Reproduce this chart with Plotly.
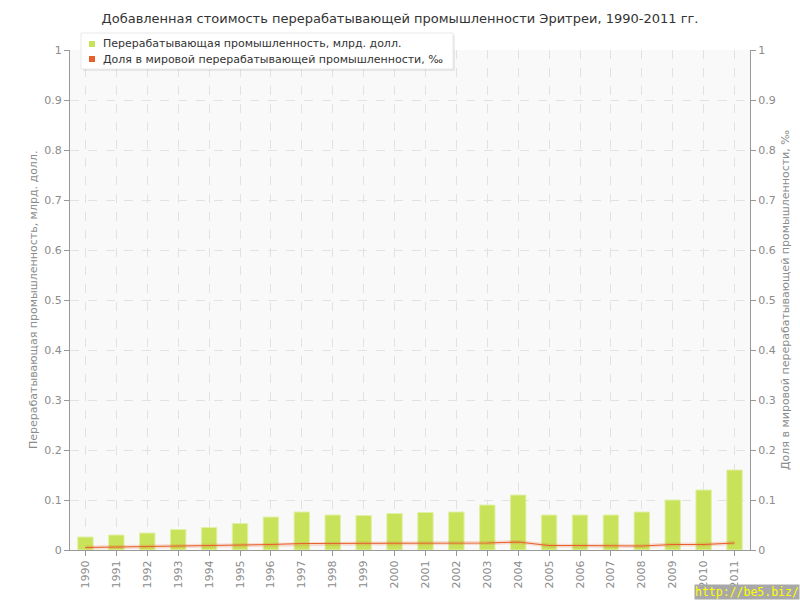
import plotly.graph_objects as go

years = [str(y) for y in range(1990, 2012)]
value_bn = [0.026, 0.030, 0.034, 0.041, 0.045, 0.053, 0.066, 0.076, 0.070, 0.069, 0.073,
            0.075, 0.076, 0.090, 0.110, 0.070, 0.070, 0.070, 0.076, 0.100, 0.120, 0.160]
share_permille = [0.005, 0.006, 0.007, 0.008, 0.008, 0.009, 0.011, 0.013, 0.013, 0.013, 0.013,
                  0.014, 0.014, 0.014, 0.016, 0.009, 0.009, 0.008, 0.008, 0.011, 0.011, 0.014]
y_ticks = [0, 0.1, 0.2, 0.3, 0.4, 0.5, 0.6, 0.7, 0.8, 0.9, 1]
y_tick_text = ["0", "0.1", "0.2", "0.3", "0.4", "0.5", "0.6", "0.7", "0.8", "0.9", "1"]

title = "Добавленная стоимость перерабатывающей промышленности Эритреи, 1990-2011 гг."
name_bar = "Перерабатывающая промышленность, млрд. долл."
name_line = "Доля в мировой перерабатывающей промышленности, ‰"

FONT = "DejaVu Sans"
GRAY = "#8c8c8c"
BAR_COLOR = "#c8e35a"
LINE_COLOR = "#e8602c"

fig = go.Figure()
fig.add_trace(go.Bar(
    x=years, y=value_bn, name=name_bar, showlegend=False,
    marker=dict(color=BAR_COLOR, line=dict(color="#e2f0a8", width=1)),
    width=0.5, yaxis="y",
))
# soft halo under the share line
fig.add_trace(go.Scatter(
    x=years, y=share_permille, mode="lines", showlegend=False, hoverinfo="skip",
    line=dict(color="rgba(232,96,44,0.2)", width=4), yaxis="y2",
))
fig.add_trace(go.Scatter(
    x=years, y=share_permille, name=name_line, mode="lines", showlegend=False,
    line=dict(color=LINE_COLOR, width=1.2), yaxis="y2",
))

axis_common = dict(
    range=[0, 1], tickvals=y_ticks, ticktext=y_tick_text,
    ticks="outside", ticklen=5, tickcolor="#999999",
    tickfont=dict(family=FONT, size=11, color=GRAY),
    showline=True, linecolor="#999999", linewidth=1,
    zeroline=False, automargin=False,
)

fig.update_layout(
    width=800, height=600,
    paper_bgcolor="white", plot_bgcolor="#f9f9f9",
    margin=dict(l=70, r=50, t=50, b=50),
    title=dict(text=title, x=0.5, xanchor="center", y=0.97, yanchor="middle",
               font=dict(family=FONT, size=13, color="#333333")),
    font=dict(family=FONT, size=11, color=GRAY),
    showlegend=False,
    xaxis=dict(
        type="category", tickangle=-90,
        tickfont=dict(family=FONT, size=11, color=GRAY),
        showgrid=True, gridcolor="#e2e2e2", griddash="dash", gridwidth=1,
        showline=True, linecolor="#999999", linewidth=1,
        ticks="outside", ticklen=5, tickcolor="#999999",
        range=[-0.5, 21.5], automargin=False, layer="above traces",
    ),
    yaxis=dict(**axis_common, showgrid=True, gridcolor="#e2e2e2", griddash="dash",
               layer="above traces"),
    yaxis2=dict(**axis_common, overlaying="y", side="right", showgrid=False),
    bargap=0.5,
)

# --- manual legend (pixel -> paper helpers) ---
def px_x(px):
    return (px - 70) / 680.0

def px_y(py):
    return (550 - py) / 500.0

fig.add_shape(type="rect", xref="paper", yref="paper",
              x0=px_x(83), x1=px_x(455), y0=px_y(71), y1=px_y(35),
              line=dict(width=0), fillcolor="rgba(0,0,0,0.07)", layer="above")
fig.add_shape(type="rect", xref="paper", yref="paper",
              x0=px_x(81), x1=px_x(453), y0=px_y(69), y1=px_y(33),
              line=dict(color="#e8e8e8", width=1), fillcolor="white", layer="above")
legend_items = [(name_bar, BAR_COLOR, 44), (name_line, LINE_COLOR, 59)]
for text, color, row_y in legend_items:
    fig.add_shape(type="rect", xref="paper", yref="paper",
                  x0=px_x(89), x1=px_x(95), y0=px_y(row_y + 3), y1=px_y(row_y - 3),
                  line=dict(width=0), fillcolor=color, layer="above")
    fig.add_annotation(text=text, xref="paper", yref="paper",
                       x=px_x(101), y=px_y(row_y), xanchor="left", yanchor="middle",
                       showarrow=False, font=dict(family=FONT, size=11, color="#333333"))

fig.add_annotation(text=name_bar, xref="paper", yref="paper", x=px_x(33), y=0.5,
                   textangle=-90, showarrow=False, xanchor="center", yanchor="middle",
                   font=dict(family=FONT, size=11, color=GRAY))
fig.add_annotation(text=name_line, xref="paper", yref="paper", x=px_x(785), y=0.5,
                   textangle=-90, showarrow=False, xanchor="center", yanchor="middle",
                   font=dict(family=FONT, size=11, color=GRAY))

fig.add_annotation(
    text="http://be5.biz/", xref="paper", yref="paper",
    x=px_x(800), y=px_y(600), xanchor="right", yanchor="bottom",
    showarrow=False, bgcolor="#a8a8a8", borderpad=0,
    font=dict(family="DejaVu Sans Mono", size=11.5, color="#ffff00"),
)

fig.write_html(
    "out.html",
    config={"displayModeBar": False},
    post_script="document.body.style.margin='0';document.body.style.overflow='hidden';",
)
